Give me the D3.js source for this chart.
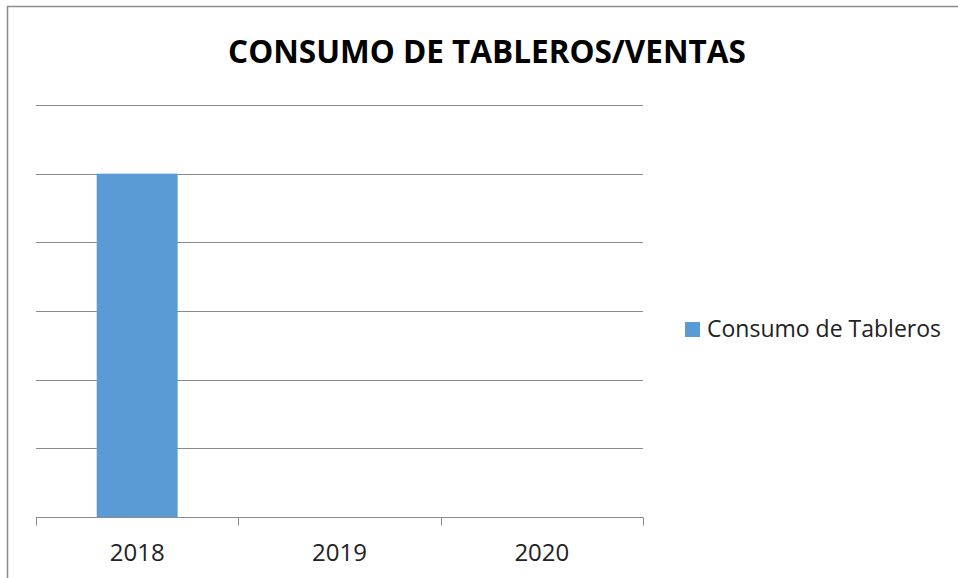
<!DOCTYPE html>
<html>
<head>
<meta charset="utf-8">
<script src="https://cdn.jsdelivr.net/npm/d3@7"></script>
<style>
  body { margin: 0; background: #fff; }
  text { font-family: "Open Sans", "Noto Sans", sans-serif; }
</style>
</head>
<body>
<svg id="chart" width="958" height="578"></svg>
<script>
// data
const categories = ["2018", "2019", "2020"];
const consumo = [5, 0, 0];
const yTicks = [0, 1, 2, 3, 4, 5, 6];
const seriesName = "Consumo de Tableros";
const title = "CONSUMO DE TABLEROS/VENTAS";

const svg = d3.select("#chart");
const W = 958, H = 578;
const m = {left: 36, right: 315, top: 105, bottom: 61};

// outer border (cropped at right/bottom)
svg.append("rect")
  .attr("x", 7.5).attr("y", 6.5)
  .attr("width", W + 10).attr("height", H + 10)
  .attr("fill", "none")
  .attr("stroke", "#8c8c8c")
  .attr("stroke-width", 1.5);

svg.append("text")
  .attr("x", 487).attr("y", 63)
  .attr("text-anchor", "middle")
  .style("font-size", "31.5px")
  .style("font-weight", "bold")
  .attr("fill", "#000")
  .text(title);

const x = d3.scaleBand()
  .domain(categories)
  .range([m.left, W - m.right])
  .paddingInner(0.6).paddingOuter(0.3);

const y = d3.scaleLinear()
  .domain([0, 6])
  .range([H - m.bottom, m.top]);

// gridlines
svg.append("g")
  .selectAll("line")
  .data(yTicks.filter(d => d > 0))
  .enter().append("line")
  .attr("x1", m.left).attr("x2", W - m.right)
  .attr("y1", d => Math.round(y(d)) + 0.5)
  .attr("y2", d => Math.round(y(d)) + 0.5)
  .attr("stroke", "#8a8a8a")
  .attr("stroke-width", 1);

// bars
svg.append("g")
  .selectAll("rect")
  .data(consumo)
  .enter().append("rect")
  .attr("x", (d, i) => x(categories[i]))
  .attr("y", d => y(d))
  .attr("width", x.bandwidth())
  .attr("height", d => y(0) - y(d))
  .attr("fill", "#5b9bd5");

// x axis
const step = (W - m.right - m.left) / categories.length;
const xAxis = svg.append("g")
  .attr("transform", "translate(0," + (Math.round(y(0)) + 0.5) + ")");
xAxis.append("line")
  .attr("x1", m.left).attr("x2", W - m.right)
  .attr("stroke", "#8a8a8a");
xAxis.selectAll(".tk")
  .data(d3.range(categories.length + 1))
  .enter().append("line")
  .attr("class", "tk")
  .attr("x1", i => Math.round(m.left + i * step) + 0.5)
  .attr("x2", i => Math.round(m.left + i * step) + 0.5)
  .attr("y1", 0).attr("y2", 8)
  .attr("stroke", "#8a8a8a");
xAxis.selectAll("text")
  .data(categories)
  .enter().append("text")
  .attr("x", d => x(d) + x.bandwidth() / 2)
  .attr("y", 43)
  .attr("text-anchor", "middle")
  .style("font-size", "24px")
  .attr("fill", "#222")
  .text(d => d);

// legend
const lg = svg.append("g").attr("transform", "translate(685,322)");
lg.append("rect")
  .attr("width", 15).attr("height", 15)
  .attr("fill", "#5b9bd5");
lg.append("text")
  .attr("x", 22).attr("y", 15)
  .style("font-size", "23px")
  .attr("fill", "#222")
  .text(seriesName);
</script>
</body>
</html>
